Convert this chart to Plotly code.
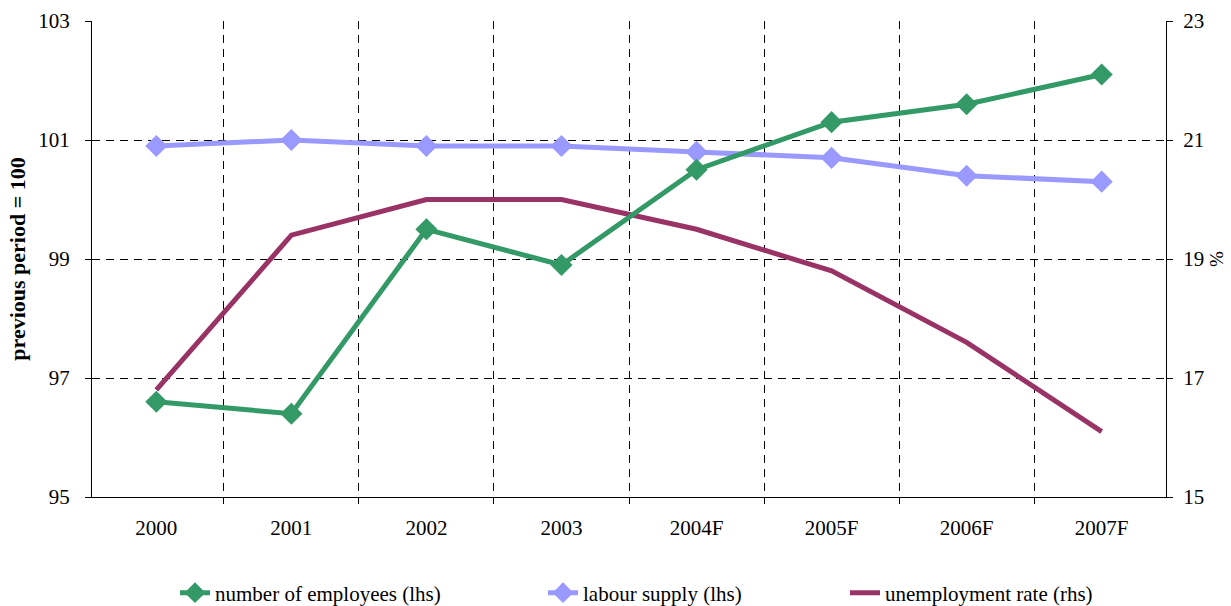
import plotly.graph_objects as go

# Years on the category axis
years = ["2000", "2001", "2002", "2003", "2004F", "2005F", "2006F", "2007F"]

# Index values, previous period = 100 (left-hand scale)
employees = [96.6, 96.4, 99.5, 98.9, 100.5, 101.3, 101.6, 102.1]
labour_supply = [100.9, 101.0, 100.9, 100.9, 100.8, 100.7, 100.4, 100.3]

# Unemployment rate in % (right-hand scale)
unemployment = [16.8, 19.4, 20.0, 20.0, 19.5, 18.8, 17.6, 16.1]

left_ticks = [95, 97, 99, 101, 103]
right_ticks = [15, 17, 19, 21, 23]

GREEN = "#339966"
LAVENDER = "#9999FF"
PLUM = "#993366"
FONT = "Liberation Serif"
FS = 21

fig = go.Figure()

# Unemployment sits on the base (right-hand) axis so the index lines draw above it
fig.add_trace(go.Scatter(
    x=years, y=unemployment, name="unemployment rate (rhs)",
    mode="lines", line=dict(color=PLUM, width=5),
    yaxis="y", legend="legend3",
))
fig.add_trace(go.Scatter(
    x=years, y=labour_supply, name="labour supply (lhs)",
    mode="lines+markers", line=dict(color=LAVENDER, width=5),
    marker=dict(symbol="diamond", size=17, color=LAVENDER),
    yaxis="y2", legend="legend2",
))
fig.add_trace(go.Scatter(
    x=years, y=employees, name="number of employees (lhs)",
    mode="lines+markers", line=dict(color=GREEN, width=5),
    marker=dict(symbol="diamond", size=17, color=GREEN),
    yaxis="y2", legend="legend",
))


def legend_box(x_px):
    return dict(
        orientation="h", xref="container", yref="container",
        x=x_px / 1231, xanchor="left", y=13 / 606, yanchor="middle",
        font=dict(family=FONT, size=FS, color="black"),
        bgcolor="rgba(0,0,0,0)", itemwidth=30,
    )


fig.update_layout(
    width=1231, height=606,
    margin=dict(l=92, r=65, t=21, b=109, autoexpand=False),
    paper_bgcolor="white", plot_bgcolor="white",
    font=dict(family=FONT, size=FS, color="black"),
    showlegend=True,
    legend=legend_box(175),
    legend2=legend_box(543),
    legend3=legend_box(845),
    xaxis=dict(
        type="category", tickson="boundaries", automargin=False,
        showgrid=True, gridcolor="black", griddash="8px,6px", gridwidth=1,
        showline=True, linecolor="black", linewidth=1, mirror=False,
        ticks="outside", ticklen=6, tickcolor="black",
        tickfont=dict(family=FONT, size=FS), ticklabelstandoff=12,
        zeroline=False,
    ),
    yaxis=dict(
        side="right", range=[15, 23], tickvals=right_ticks, automargin=False,
        showgrid=True, gridcolor="black", griddash="8px,6px", gridwidth=1,
        showline=True, linecolor="black", linewidth=1,
        ticks="outside", ticklen=6, tickcolor="black",
        tickfont=dict(family=FONT, size=FS), ticklabelstandoff=6,
        title=dict(text="%", font=dict(family=FONT, size=19), standoff=6),
        zeroline=False,
    ),
    yaxis2=dict(
        side="left", overlaying="y", range=[95, 103], tickvals=left_ticks,
        automargin=False, showgrid=False,
        showline=True, linecolor="black", linewidth=1,
        ticks="outside", ticklen=6, tickcolor="black",
        tickfont=dict(family=FONT, size=FS), ticklabelstandoff=11,
        title=dict(text="<b>previous period = 100</b>",
                   font=dict(family=FONT, size=22), standoff=6),
        zeroline=False,
    ),
)

fig.write_html("out.html")
